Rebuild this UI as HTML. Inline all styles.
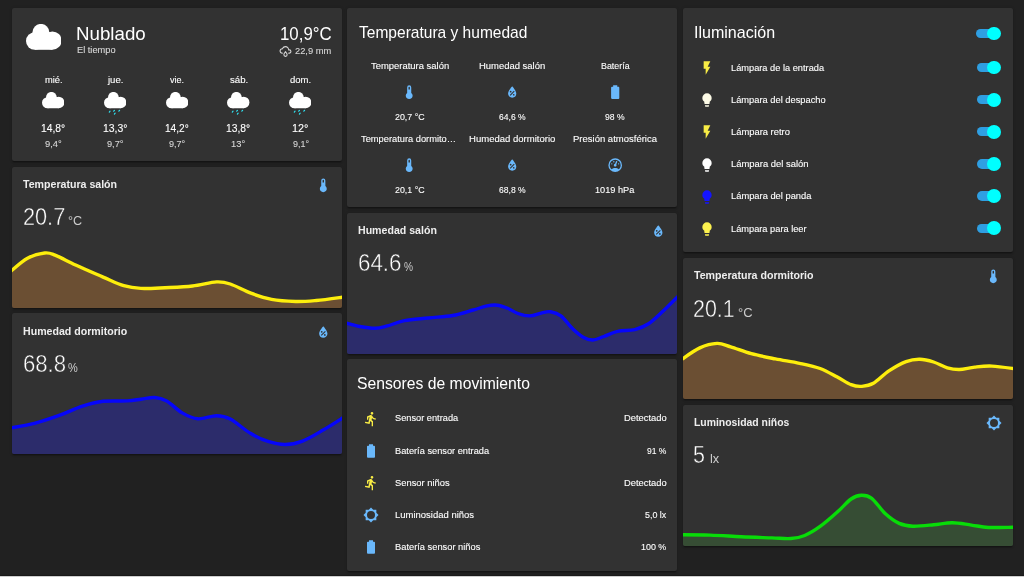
<!DOCTYPE html><html lang="es"><head><meta charset="utf-8"><title>Home Assistant</title><style>
html,body{margin:0;padding:0}
body{width:1024px;height:577px;overflow:hidden;background:#212121;font-family:"Liberation Sans",sans-serif;position:relative}
.card{position:absolute;background:#323232;border-radius:2px;box-shadow:0 1.33px 1.33px rgba(0,0,0,.14),0 .67px 3.3px rgba(0,0,0,.12),0 2px .67px -1.33px rgba(0,0,0,.2)}
.t{position:absolute;white-space:nowrap;line-height:1;transform-origin:0 0;display:block}
.ic,.gr{position:absolute;display:block;overflow:hidden}
.gr{border-radius:2px}
.trk{position:absolute;width:21.3px;height:9.3px;border-radius:5px;background:#2f9fe2}
.thb{position:absolute;width:13.8px;height:13.8px;border-radius:50%;background:#00ffff}
.foot{position:absolute;left:0;top:575.9px;width:1024px;height:2px;background:#cfcfcf;box-shadow:0 -.6px 1px rgba(0,0,0,.45)}
</style></head><body>
<div class="card" style="left:12.00px;top:8.00px;width:330.00px;height:152.67px"></div>
<div class="card" style="left:12.00px;top:166.80px;width:330.00px;height:140.73px"></div>
<div class="card" style="left:12.00px;top:313.47px;width:330.00px;height:140.73px"></div>
<div class="card" style="left:347.33px;top:8.00px;width:330.00px;height:198.67px"></div>
<div class="card" style="left:347.33px;top:212.80px;width:330.00px;height:140.73px"></div>
<div class="card" style="left:347.33px;top:359.30px;width:330.00px;height:211.40px"></div>
<div class="card" style="left:682.67px;top:8.00px;width:330.00px;height:244.00px"></div>
<div class="card" style="left:682.67px;top:258.13px;width:330.00px;height:140.73px"></div>
<div class="card" style="left:682.67px;top:404.80px;width:330.00px;height:140.73px"></div>
<svg class="ic" style="left:25.90px;top:23.50px;width:35.60px;height:38.00px" viewBox="0 0 35.6 38"><g fill="#fff"><circle cx="14.9" cy="8.4" r="8.5"/><circle cx="26.4" cy="16.6" r="9.2"/><circle cx="8.8" cy="17" r="8.8"/><rect x="8.8" y="8.4" width="17.6" height="17.4"/></g></svg>
<svg class="ic" style="left:279.10px;top:45.10px;width:13.00px;height:13.00px" viewBox="0 0 24 24"><path fill="#d8d8d8" fill-rule="evenodd" d="M6,14.03A1,1 0 0,1 7,15.03C7,15.58 6.55,16.03 6,16.03C3.24,16.03 1,13.79 1,11.03C1,8.27 3.24,6.03 6,6.03C7,3.68 9.3,2.03 12,2.03C15.43,2.03 18.24,4.69 18.5,8.06L19,8.03A4,4 0 0,1 23,12.03C23,14.23 21.21,16.03 19,16.03H18C17.45,16.03 17,15.58 17,15.03C17,14.47 17.45,14.03 18,14.03H19A2,2 0 0,0 21,12.03A2,2 0 0,0 19,10.03H17V9.03C17,6.27 14.76,4.03 12,4.03C9.5,4.03 7.45,5.84 7.06,8.21C6.73,8.09 6.37,8.03 6,8.03A3,3 0 0,0 3,11.03A3,3 0 0,0 6,14.03M12,14.15C12.18,14.39 12.37,14.66 12.56,14.94C13,15.56 14,17.03 14,18C14,19.11 13.1,20 12,20A2,2 0 0,1 10,18C10,17.03 11,15.56 11.44,14.94C11.63,14.66 11.82,14.4 12,14.15M12,11.03L11.5,11.59C11.5,11.59 10.65,12.55 9.79,13.81C8.93,15.06 8,16.56 8,18A4,4 0 0,0 12,22A4,4 0 0,0 16,18C16,16.56 15.07,15.06 14.21,13.81C13.35,12.55 12.5,11.59 12.5,11.59L12,11.03Z"/></svg>
<svg class="ic" style="left:42.05px;top:91.80px;width:22.43px;height:23.94px" viewBox="0 0 35.6 38"><g fill="#fff"><circle cx="14.9" cy="8.4" r="8.5"/><circle cx="26.4" cy="16.6" r="9.2"/><circle cx="8.8" cy="17" r="8.8"/><rect x="8.8" y="8.4" width="17.6" height="17.4"/></g></svg>
<svg class="ic" style="left:103.78px;top:91.80px;width:22.43px;height:23.94px" viewBox="0 0 35.6 38"><g fill="#fff"><circle cx="14.9" cy="8.4" r="8.5"/><circle cx="26.4" cy="16.6" r="9.2"/><circle cx="8.8" cy="17" r="8.8"/><rect x="8.8" y="8.4" width="17.6" height="17.4"/></g><g stroke="#2fe3f2" stroke-width="1.9" stroke-linecap="round"><line x1="9.6" y1="30.5" x2="8.4" y2="31.9"/><line x1="16.6" y1="29.1" x2="15.4" y2="30.5"/><line x1="24.700000000000003" y1="29.0" x2="23.5" y2="30.4"/><line x1="17.700000000000003" y1="33.599999999999994" x2="16.5" y2="35.0"/></g></svg>
<svg class="ic" style="left:165.51px;top:91.80px;width:22.43px;height:23.94px" viewBox="0 0 35.6 38"><g fill="#fff"><circle cx="14.9" cy="8.4" r="8.5"/><circle cx="26.4" cy="16.6" r="9.2"/><circle cx="8.8" cy="17" r="8.8"/><rect x="8.8" y="8.4" width="17.6" height="17.4"/></g></svg>
<svg class="ic" style="left:227.24px;top:91.80px;width:22.43px;height:23.94px" viewBox="0 0 35.6 38"><g fill="#fff"><circle cx="14.9" cy="8.4" r="8.5"/><circle cx="26.4" cy="16.6" r="9.2"/><circle cx="8.8" cy="17" r="8.8"/><rect x="8.8" y="8.4" width="17.6" height="17.4"/></g><g stroke="#2fe3f2" stroke-width="1.9" stroke-linecap="round"><line x1="9.6" y1="30.5" x2="8.4" y2="31.9"/><line x1="16.6" y1="29.1" x2="15.4" y2="30.5"/><line x1="24.700000000000003" y1="29.0" x2="23.5" y2="30.4"/><line x1="17.700000000000003" y1="33.599999999999994" x2="16.5" y2="35.0"/></g></svg>
<svg class="ic" style="left:288.97px;top:91.80px;width:22.43px;height:23.94px" viewBox="0 0 35.6 38"><g fill="#fff"><circle cx="14.9" cy="8.4" r="8.5"/><circle cx="26.4" cy="16.6" r="9.2"/><circle cx="8.8" cy="17" r="8.8"/><rect x="8.8" y="8.4" width="17.6" height="17.4"/></g><g stroke="#2fe3f2" stroke-width="1.9" stroke-linecap="round"><line x1="9.6" y1="30.5" x2="8.4" y2="31.9"/><line x1="16.6" y1="29.1" x2="15.4" y2="30.5"/><line x1="24.700000000000003" y1="29.0" x2="23.5" y2="30.4"/><line x1="17.700000000000003" y1="33.599999999999994" x2="16.5" y2="35.0"/></g></svg>
<svg class="gr" style="left:12.00px;top:166.80px;width:330.00px;height:140.73px" viewBox="0 0 330.00 140.73"><path d="M-2.0,104.9 C0.9,102.6 9.7,94.3 15.5,91.2 C21.3,88.0 28.1,86.5 32.7,86.0 C37.3,85.5 37.9,86.1 43.0,88.1 C48.1,90.1 55.6,94.3 63.6,98.0 C71.6,101.7 83.1,106.6 91.1,110.1 C99.1,113.5 105.5,116.8 111.8,118.7 C118.1,120.6 122.0,121.1 128.9,121.4 C135.8,121.7 144.4,121.1 153.0,120.7 C161.6,120.3 171.9,120.0 180.5,119.0 C189.1,118.0 198.3,115.2 204.6,114.9 C210.9,114.6 212.6,115.1 218.3,117.0 C224.0,118.9 232.0,123.6 238.9,126.2 C245.8,128.8 252.2,131.0 259.6,132.4 C267.1,133.8 276.2,134.3 283.6,134.5 C291.1,134.7 296.2,134.2 304.3,133.5 C312.4,132.8 327.4,130.6 332.0,130.0 L332,142.73000000000002 L-2,142.73000000000002 Z" fill="#6b4f33"/><path d="M-2.0,104.9 C0.9,102.6 9.7,94.3 15.5,91.2 C21.3,88.0 28.1,86.5 32.7,86.0 C37.3,85.5 37.9,86.1 43.0,88.1 C48.1,90.1 55.6,94.3 63.6,98.0 C71.6,101.7 83.1,106.6 91.1,110.1 C99.1,113.5 105.5,116.8 111.8,118.7 C118.1,120.6 122.0,121.1 128.9,121.4 C135.8,121.7 144.4,121.1 153.0,120.7 C161.6,120.3 171.9,120.0 180.5,119.0 C189.1,118.0 198.3,115.2 204.6,114.9 C210.9,114.6 212.6,115.1 218.3,117.0 C224.0,118.9 232.0,123.6 238.9,126.2 C245.8,128.8 252.2,131.0 259.6,132.4 C267.1,133.8 276.2,134.3 283.6,134.5 C291.1,134.7 296.2,134.2 304.3,133.5 C312.4,132.8 327.4,130.6 332.0,130.0" fill="none" stroke="#fdee0c" stroke-width="3.4" stroke-linejoin="round"/></svg>
<svg class="ic" style="left:314.80px;top:177.10px;width:16.60px;height:16.60px" viewBox="0 0 24 24"><path fill="#6ab8fb" fill-rule="evenodd" d="M15 13V5A3 3 0 0 0 9 5V13A5 5 0 1 0 15 13M12 4A1 1 0 0 1 13 5V8H11V5A1 1 0 0 1 12 4Z"/></svg>
<svg class="gr" style="left:12.00px;top:313.47px;width:330.00px;height:140.73px" viewBox="0 0 330.00 140.73"><path d="M-2.0,115.1 C2.1,114.3 14.3,112.4 22.4,110.3 C30.5,108.3 38.4,105.6 46.4,102.7 C54.4,99.9 63.0,95.5 70.5,93.1 C78.0,90.7 83.6,89.2 91.1,88.3 C98.5,87.5 108.9,88.3 115.2,87.9 C121.5,87.6 124.3,86.8 128.9,86.2 C133.5,85.7 138.4,84.2 142.7,84.5 C147.0,84.8 150.1,85.4 154.7,87.9 C159.3,90.5 165.0,96.9 170.2,99.9 C175.4,102.9 180.0,105.4 185.7,105.8 C191.4,106.3 199.2,102.7 204.6,102.7 C210.0,102.8 212.6,103.1 218.3,106.1 C224.0,109.1 232.6,116.9 238.9,120.6 C245.2,124.4 250.4,126.7 256.1,128.5 C261.8,130.3 267.6,131.6 273.3,131.5 C279.0,131.5 284.2,130.5 290.5,128.1 C296.8,125.7 304.2,121.1 311.1,117.1 C318.0,113.1 328.5,106.3 332.0,104.1 L332,142.73000000000002 L-2,142.73000000000002 Z" fill="#2c2c6b"/><path d="M-2.0,115.1 C2.1,114.3 14.3,112.4 22.4,110.3 C30.5,108.3 38.4,105.6 46.4,102.7 C54.4,99.9 63.0,95.5 70.5,93.1 C78.0,90.7 83.6,89.2 91.1,88.3 C98.5,87.5 108.9,88.3 115.2,87.9 C121.5,87.6 124.3,86.8 128.9,86.2 C133.5,85.7 138.4,84.2 142.7,84.5 C147.0,84.8 150.1,85.4 154.7,87.9 C159.3,90.5 165.0,96.9 170.2,99.9 C175.4,102.9 180.0,105.4 185.7,105.8 C191.4,106.3 199.2,102.7 204.6,102.7 C210.0,102.8 212.6,103.1 218.3,106.1 C224.0,109.1 232.6,116.9 238.9,120.6 C245.2,124.4 250.4,126.7 256.1,128.5 C261.8,130.3 267.6,131.6 273.3,131.5 C279.0,131.5 284.2,130.5 290.5,128.1 C296.8,125.7 304.2,121.1 311.1,117.1 C318.0,113.1 328.5,106.3 332.0,104.1" fill="none" stroke="#0606fa" stroke-width="3.4" stroke-linejoin="round"/></svg>
<svg class="ic" style="left:314.80px;top:323.77px;width:16.60px;height:16.60px" viewBox="0 0 24 24"><path fill="#6ab8fb" fill-rule="evenodd" d="M12,3.25C12,3.25 6,10 6,14C6,17.32 8.69,20 12,20A6,6 0 0,0 18,14C18,10 12,3.25 12,3.25M14.47,9.97L15.53,11.03L9.53,17.03L8.47,15.97M9.75,10A1.25,1.25 0 0,1 11,11.25A1.25,1.25 0 0,1 9.75,12.5A1.25,1.25 0 0,1 8.5,11.25A1.25,1.25 0 0,1 9.75,10M14.25,14.5A1.25,1.25 0 0,1 15.5,15.75A1.25,1.25 0 0,1 14.25,17A1.25,1.25 0 0,1 13,15.75A1.25,1.25 0 0,1 14.25,14.5Z"/></svg>
<svg class="ic" style="left:401.20px;top:83.90px;width:16.40px;height:16.40px" viewBox="0 0 24 24"><path fill="#6ab8fb" fill-rule="evenodd" d="M15 13V5A3 3 0 0 0 9 5V13A5 5 0 1 0 15 13M12 4A1 1 0 0 1 13 5V8H11V5A1 1 0 0 1 12 4Z"/></svg>
<svg class="ic" style="left:504.10px;top:83.90px;width:16.40px;height:16.40px" viewBox="0 0 24 24"><path fill="#6ab8fb" fill-rule="evenodd" d="M12,3.25C12,3.25 6,10 6,14C6,17.32 8.69,20 12,20A6,6 0 0,0 18,14C18,10 12,3.25 12,3.25M14.47,9.97L15.53,11.03L9.53,17.03L8.47,15.97M9.75,10A1.25,1.25 0 0,1 11,11.25A1.25,1.25 0 0,1 9.75,12.5A1.25,1.25 0 0,1 8.5,11.25A1.25,1.25 0 0,1 9.75,10M14.25,14.5A1.25,1.25 0 0,1 15.5,15.75A1.25,1.25 0 0,1 14.25,17A1.25,1.25 0 0,1 13,15.75A1.25,1.25 0 0,1 14.25,14.5Z"/></svg>
<svg class="ic" style="left:607.00px;top:83.90px;width:16.40px;height:16.40px" viewBox="0 0 24 24"><path fill="#6ab8fb" fill-rule="evenodd" d="M16.67,4H15V2H9V4H7.33A1.33,1.33 0 0,0 6,5.33V20.67C6,21.4 6.6,22 7.33,22H16.67A1.33,1.33 0 0,0 18,20.67V5.33C18,4.6 17.4,4 16.67,4Z"/></svg>
<svg class="ic" style="left:401.20px;top:156.60px;width:16.40px;height:16.40px" viewBox="0 0 24 24"><path fill="#6ab8fb" fill-rule="evenodd" d="M15 13V5A3 3 0 0 0 9 5V13A5 5 0 1 0 15 13M12 4A1 1 0 0 1 13 5V8H11V5A1 1 0 0 1 12 4Z"/></svg>
<svg class="ic" style="left:504.10px;top:156.60px;width:16.40px;height:16.40px" viewBox="0 0 24 24"><path fill="#6ab8fb" fill-rule="evenodd" d="M12,3.25C12,3.25 6,10 6,14C6,17.32 8.69,20 12,20A6,6 0 0,0 18,14C18,10 12,3.25 12,3.25M14.47,9.97L15.53,11.03L9.53,17.03L8.47,15.97M9.75,10A1.25,1.25 0 0,1 11,11.25A1.25,1.25 0 0,1 9.75,12.5A1.25,1.25 0 0,1 8.5,11.25A1.25,1.25 0 0,1 9.75,10M14.25,14.5A1.25,1.25 0 0,1 15.5,15.75A1.25,1.25 0 0,1 14.25,17A1.25,1.25 0 0,1 13,15.75A1.25,1.25 0 0,1 14.25,14.5Z"/></svg>
<svg class="ic" style="left:607.00px;top:156.60px;width:16.40px;height:16.40px" viewBox="0 0 24 24"><path fill="#6ab8fb" fill-rule="evenodd" d="M12,2A10,10 0 0,0 2,12A10,10 0 0,0 12,22A10,10 0 0,0 22,12A10,10 0 0,0 12,2M12,4A8,8 0 0,1 20,12C20,14.4 19,16.5 17.3,18C15.9,16.7 14,16 12,16C10,16 8.2,16.7 6.7,18C5,16.5 4,14.4 4,12A8,8 0 0,1 12,4M14,5.89C13.62,5.9 13.26,6.15 13.1,6.54L11.81,9.77L11.71,10C11,10.13 10.41,10.6 10.14,11.26C9.73,12.29 10.23,13.45 11.26,13.86C12.29,14.27 13.45,13.77 13.86,12.74C14.12,12.08 14,11.32 13.57,10.76L13.67,10.5L14.96,7.29L14.97,7.26C15.17,6.75 14.92,6.17 14.41,5.96C14.28,5.91 14.15,5.89 14,5.89M10,6A1,1 0 0,0 9,7A1,1 0 0,0 10,8A1,1 0 0,0 11,7A1,1 0 0,0 10,6M7,9A1,1 0 0,0 6,10A1,1 0 0,0 7,11A1,1 0 0,0 8,10A1,1 0 0,0 7,9M17,9A1,1 0 0,0 16,10A1,1 0 0,0 17,11A1,1 0 0,0 18,10A1,1 0 0,0 17,9Z"/></svg>
<svg class="gr" style="left:347.33px;top:212.80px;width:330.00px;height:140.73px" viewBox="0 0 330.00 140.73"><path d="M-2.0,109.8 C0.5,110.4 7.7,112.6 12.8,113.5 C17.8,114.4 23.6,115.4 28.2,115.3 C32.8,115.2 35.4,114.2 40.3,112.9 C45.2,111.6 50.6,109.0 57.5,107.7 C64.3,106.4 73.5,105.9 81.5,105.0 C89.5,104.1 98.1,103.8 105.6,102.5 C113.0,101.2 120.4,98.6 126.2,97.0 C131.9,95.4 136.0,93.7 140.0,92.9 C144.0,92.1 146.8,91.8 150.3,92.2 C153.7,92.6 157.1,93.9 160.6,95.3 C164.0,96.7 167.2,99.2 170.9,100.5 C174.6,101.8 178.9,103.0 182.9,102.9 C186.9,102.8 191.5,100.5 195.0,99.8 C198.4,99.1 200.4,98.3 203.6,98.8 C206.7,99.3 210.2,100.0 213.9,102.9 C217.6,105.8 222.2,112.5 225.9,116.0 C229.6,119.5 232.9,122.4 236.2,124.2 C239.5,126.0 242.3,127.1 245.8,127.0 C249.2,126.9 252.6,124.9 256.8,123.5 C260.9,122.1 265.4,119.5 270.6,118.4 C275.7,117.2 282.6,117.9 287.8,116.6 C292.9,115.3 296.9,113.8 301.5,110.8 C306.1,107.8 310.2,103.6 315.3,98.8 C320.4,94.1 329.2,85.1 332.0,82.3 L332,142.73000000000002 L-2,142.73000000000002 Z" fill="#2c2c6b"/><path d="M-2.0,109.8 C0.5,110.4 7.7,112.6 12.8,113.5 C17.8,114.4 23.6,115.4 28.2,115.3 C32.8,115.2 35.4,114.2 40.3,112.9 C45.2,111.6 50.6,109.0 57.5,107.7 C64.3,106.4 73.5,105.9 81.5,105.0 C89.5,104.1 98.1,103.8 105.6,102.5 C113.0,101.2 120.4,98.6 126.2,97.0 C131.9,95.4 136.0,93.7 140.0,92.9 C144.0,92.1 146.8,91.8 150.3,92.2 C153.7,92.6 157.1,93.9 160.6,95.3 C164.0,96.7 167.2,99.2 170.9,100.5 C174.6,101.8 178.9,103.0 182.9,102.9 C186.9,102.8 191.5,100.5 195.0,99.8 C198.4,99.1 200.4,98.3 203.6,98.8 C206.7,99.3 210.2,100.0 213.9,102.9 C217.6,105.8 222.2,112.5 225.9,116.0 C229.6,119.5 232.9,122.4 236.2,124.2 C239.5,126.0 242.3,127.1 245.8,127.0 C249.2,126.9 252.6,124.9 256.8,123.5 C260.9,122.1 265.4,119.5 270.6,118.4 C275.7,117.2 282.6,117.9 287.8,116.6 C292.9,115.3 296.9,113.8 301.5,110.8 C306.1,107.8 310.2,103.6 315.3,98.8 C320.4,94.1 329.2,85.1 332.0,82.3" fill="none" stroke="#0606fa" stroke-width="3.4" stroke-linejoin="round"/></svg>
<svg class="ic" style="left:650.13px;top:223.10px;width:16.60px;height:16.60px" viewBox="0 0 24 24"><path fill="#6ab8fb" fill-rule="evenodd" d="M12,3.25C12,3.25 6,10 6,14C6,17.32 8.69,20 12,20A6,6 0 0,0 18,14C18,10 12,3.25 12,3.25M14.47,9.97L15.53,11.03L9.53,17.03L8.47,15.97M9.75,10A1.25,1.25 0 0,1 11,11.25A1.25,1.25 0 0,1 9.75,12.5A1.25,1.25 0 0,1 8.5,11.25A1.25,1.25 0 0,1 9.75,10M14.25,14.5A1.25,1.25 0 0,1 15.5,15.75A1.25,1.25 0 0,1 14.25,17A1.25,1.25 0 0,1 13,15.75A1.25,1.25 0 0,1 14.25,14.5Z"/></svg>
<svg class="ic" style="left:363.10px;top:410.75px;width:16.00px;height:16.00px" viewBox="0 0 24 24"><path fill="#f8ec45" fill-rule="evenodd" d="M13.5,5.5C14.59,5.5 15.5,4.58 15.5,3.5C15.5,2.38 14.59,1.5 13.5,1.5C12.39,1.5 11.5,2.38 11.5,3.5C11.5,4.58 12.39,5.5 13.5,5.5M9.89,19.38L10.89,15L13,17V23H15V15.5L12.89,13.5L13.5,10.5C14.79,12 16.79,13 19,13V11C17.09,11 15.5,10 14.69,8.58L13.69,7C13.29,6.38 12.69,6 12,6C11.69,6 11.5,6.08 11.19,6.08L6,8.28V13H8V9.58L9.79,8.88L8.19,17L3.29,16L2.89,18L9.89,19.38Z"/></svg>
<svg class="ic" style="left:363.10px;top:442.85px;width:16.00px;height:16.00px" viewBox="0 0 24 24"><path fill="#6ab8fb" fill-rule="evenodd" d="M16.67,4H15V2H9V4H7.33A1.33,1.33 0 0,0 6,5.33V20.67C6,21.4 6.6,22 7.33,22H16.67A1.33,1.33 0 0,0 18,20.67V5.33C18,4.6 17.4,4 16.67,4Z"/></svg>
<svg class="ic" style="left:363.10px;top:474.95px;width:16.00px;height:16.00px" viewBox="0 0 24 24"><path fill="#f8ec45" fill-rule="evenodd" d="M13.5,5.5C14.59,5.5 15.5,4.58 15.5,3.5C15.5,2.38 14.59,1.5 13.5,1.5C12.39,1.5 11.5,2.38 11.5,3.5C11.5,4.58 12.39,5.5 13.5,5.5M9.89,19.38L10.89,15L13,17V23H15V15.5L12.89,13.5L13.5,10.5C14.79,12 16.79,13 19,13V11C17.09,11 15.5,10 14.69,8.58L13.69,7C13.29,6.38 12.69,6 12,6C11.69,6 11.5,6.08 11.19,6.08L6,8.28V13H8V9.58L9.79,8.88L8.19,17L3.29,16L2.89,18L9.89,19.38Z"/></svg>
<svg class="ic" style="left:363.10px;top:507.05px;width:16.00px;height:16.00px" viewBox="0 0 24 24"><path fill="#6ab8fb" fill-rule="evenodd" d="M12,18A6,6 0 0,1 6,12A6,6 0 0,1 12,6A6,6 0 0,1 18,12A6,6 0 0,1 12,18M20,8.69V4H15.31L12,0.69L8.69,4H4V8.69L0.69,12L4,15.31V20H8.69L12,23.31L15.31,20H20V15.31L23.31,12L20,8.69Z"/></svg>
<svg class="ic" style="left:363.10px;top:539.15px;width:16.00px;height:16.00px" viewBox="0 0 24 24"><path fill="#6ab8fb" fill-rule="evenodd" d="M16.67,4H15V2H9V4H7.33A1.33,1.33 0 0,0 6,5.33V20.67C6,21.4 6.6,22 7.33,22H16.67A1.33,1.33 0 0,0 18,20.67V5.33C18,4.6 17.4,4 16.67,4Z"/></svg>
<div class="trk" style="left:976.40px;top:28.90px"></div><div class="thb" style="left:987.00px;top:26.60px"></div>
<svg class="ic" style="left:698.50px;top:60.20px;width:16.00px;height:16.00px" viewBox="0 0 24 24"><path fill="#f8ec45" fill-rule="evenodd" d="M7,2V13H10V22L17,10H13L17,2H7Z"/></svg>
<div class="trk" style="left:976.80px;top:63.00px"></div><div class="thb" style="left:987.40px;top:60.70px"></div>
<svg class="ic" style="left:698.50px;top:92.30px;width:16.00px;height:16.00px" viewBox="0 0 24 24"><path fill="#fdfbe6" fill-rule="evenodd" d="M12,2A7,7 0 0,0 5,9C5,11.38 6.19,13.47 8,14.74V17A1,1 0 0,0 9,18H15A1,1 0 0,0 16,17V14.74C17.81,13.47 19,11.38 19,9A7,7 0 0,0 12,2M9,21A1,1 0 0,0 10,22H14A1,1 0 0,0 15,21V20H9V21Z"/></svg>
<div class="trk" style="left:976.80px;top:95.10px"></div><div class="thb" style="left:987.40px;top:92.80px"></div>
<svg class="ic" style="left:698.50px;top:124.40px;width:16.00px;height:16.00px" viewBox="0 0 24 24"><path fill="#f8ec45" fill-rule="evenodd" d="M7,2V13H10V22L17,10H13L17,2H7Z"/></svg>
<div class="trk" style="left:976.80px;top:127.20px"></div><div class="thb" style="left:987.40px;top:124.90px"></div>
<svg class="ic" style="left:698.50px;top:156.50px;width:16.00px;height:16.00px" viewBox="0 0 24 24"><path fill="#ffffff" fill-rule="evenodd" d="M12,2A7,7 0 0,0 5,9C5,11.38 6.19,13.47 8,14.74V17A1,1 0 0,0 9,18H15A1,1 0 0,0 16,17V14.74C17.81,13.47 19,11.38 19,9A7,7 0 0,0 12,2M9,21A1,1 0 0,0 10,22H14A1,1 0 0,0 15,21V20H9V21Z"/></svg>
<div class="trk" style="left:976.80px;top:159.30px"></div><div class="thb" style="left:987.40px;top:157.00px"></div>
<svg class="ic" style="left:698.50px;top:188.60px;width:16.00px;height:16.00px" viewBox="0 0 24 24"><path fill="#1414ff" fill-rule="evenodd" d="M12,2A7,7 0 0,0 5,9C5,11.38 6.19,13.47 8,14.74V17A1,1 0 0,0 9,18H15A1,1 0 0,0 16,17V14.74C17.81,13.47 19,11.38 19,9A7,7 0 0,0 12,2M9,21A1,1 0 0,0 10,22H14A1,1 0 0,0 15,21V20H9V21Z"/></svg>
<div class="trk" style="left:976.80px;top:191.40px"></div><div class="thb" style="left:987.40px;top:189.10px"></div>
<svg class="ic" style="left:698.50px;top:220.70px;width:16.00px;height:16.00px" viewBox="0 0 24 24"><path fill="#fdf24f" fill-rule="evenodd" d="M12,2A7,7 0 0,0 5,9C5,11.38 6.19,13.47 8,14.74V17A1,1 0 0,0 9,18H15A1,1 0 0,0 16,17V14.74C17.81,13.47 19,11.38 19,9A7,7 0 0,0 12,2M9,21A1,1 0 0,0 10,22H14A1,1 0 0,0 15,21V20H9V21Z"/></svg>
<div class="trk" style="left:976.80px;top:223.50px"></div><div class="thb" style="left:987.40px;top:221.20px"></div>
<svg class="gr" style="left:682.67px;top:258.13px;width:330.00px;height:140.73px" viewBox="0 0 330.00 140.73"><path d="M-2.0,101.9 C1.1,99.9 10.8,92.6 16.8,89.9 C22.8,87.1 28.9,85.6 34.0,85.4 C39.2,85.2 42.0,87.1 47.7,88.8 C53.5,90.5 61.0,93.7 68.4,95.7 C75.9,97.7 84.4,99.3 92.4,100.9 C100.4,102.5 109.1,103.7 116.5,105.3 C124.0,106.9 130.8,108.2 137.1,110.5 C143.4,112.8 149.2,116.4 154.3,119.1 C159.5,121.8 164.1,125.1 168.1,126.7 C172.1,128.2 174.7,128.6 178.4,128.4 C182.1,128.1 185.8,127.9 190.4,125.3 C195.0,122.7 200.5,116.5 205.9,112.9 C211.4,109.3 218.0,105.5 223.1,103.6 C228.3,101.6 232.2,101.1 236.8,101.2 C241.4,101.2 246.0,102.5 250.6,104.0 C255.2,105.4 260.0,108.5 264.3,109.8 C268.6,111.0 271.7,111.6 276.3,111.5 C280.9,111.4 286.4,109.6 291.8,109.1 C297.3,108.5 302.3,107.8 309.0,108.1 C315.7,108.4 328.2,110.3 332.0,110.8 L332,142.73000000000002 L-2,142.73000000000002 Z" fill="#6b4f33"/><path d="M-2.0,101.9 C1.1,99.9 10.8,92.6 16.8,89.9 C22.8,87.1 28.9,85.6 34.0,85.4 C39.2,85.2 42.0,87.1 47.7,88.8 C53.5,90.5 61.0,93.7 68.4,95.7 C75.9,97.7 84.4,99.3 92.4,100.9 C100.4,102.5 109.1,103.7 116.5,105.3 C124.0,106.9 130.8,108.2 137.1,110.5 C143.4,112.8 149.2,116.4 154.3,119.1 C159.5,121.8 164.1,125.1 168.1,126.7 C172.1,128.2 174.7,128.6 178.4,128.4 C182.1,128.1 185.8,127.9 190.4,125.3 C195.0,122.7 200.5,116.5 205.9,112.9 C211.4,109.3 218.0,105.5 223.1,103.6 C228.3,101.6 232.2,101.1 236.8,101.2 C241.4,101.2 246.0,102.5 250.6,104.0 C255.2,105.4 260.0,108.5 264.3,109.8 C268.6,111.0 271.7,111.6 276.3,111.5 C280.9,111.4 286.4,109.6 291.8,109.1 C297.3,108.5 302.3,107.8 309.0,108.1 C315.7,108.4 328.2,110.3 332.0,110.8" fill="none" stroke="#fdee0c" stroke-width="3.4" stroke-linejoin="round"/></svg>
<svg class="ic" style="left:985.47px;top:268.43px;width:16.60px;height:16.60px" viewBox="0 0 24 24"><path fill="#6ab8fb" fill-rule="evenodd" d="M15 13V5A3 3 0 0 0 9 5V13A5 5 0 1 0 15 13M12 4A1 1 0 0 1 13 5V8H11V5A1 1 0 0 1 12 4Z"/></svg>
<svg class="gr" style="left:682.67px;top:404.80px;width:330.00px;height:140.73px" viewBox="0 0 330.00 140.73"><path d="M-2.0,129.8 C2.9,129.8 17.1,129.8 27.1,130.1 C37.2,130.4 47.8,131.3 58.1,131.8 C68.4,132.3 80.7,132.6 89.0,132.9 C97.3,133.2 102.5,133.9 107.9,133.5 C113.4,133.1 116.9,132.5 121.7,130.5 C126.6,128.5 131.7,125.4 137.1,121.5 C142.6,117.6 149.2,111.7 154.3,107.1 C159.5,102.5 164.1,96.8 168.1,94.0 C172.1,91.2 175.0,90.3 178.4,90.2 C181.9,90.1 184.7,90.2 188.7,93.3 C192.7,96.4 197.8,104.6 202.4,108.8 C207.0,113.0 211.6,116.3 216.2,118.4 C220.8,120.5 224.2,121.0 229.9,121.2 C235.7,121.4 244.0,120.4 250.6,119.8 C257.2,119.2 263.2,117.6 269.5,117.7 C275.8,117.7 282.4,119.3 288.4,120.1 C294.4,120.9 298.4,122.1 305.6,122.5 C312.9,122.8 327.6,122.2 332.0,122.2 L332,142.73000000000002 L-2,142.73000000000002 Z" fill="#364d34"/><path d="M-2.0,129.8 C2.9,129.8 17.1,129.8 27.1,130.1 C37.2,130.4 47.8,131.3 58.1,131.8 C68.4,132.3 80.7,132.6 89.0,132.9 C97.3,133.2 102.5,133.9 107.9,133.5 C113.4,133.1 116.9,132.5 121.7,130.5 C126.6,128.5 131.7,125.4 137.1,121.5 C142.6,117.6 149.2,111.7 154.3,107.1 C159.5,102.5 164.1,96.8 168.1,94.0 C172.1,91.2 175.0,90.3 178.4,90.2 C181.9,90.1 184.7,90.2 188.7,93.3 C192.7,96.4 197.8,104.6 202.4,108.8 C207.0,113.0 211.6,116.3 216.2,118.4 C220.8,120.5 224.2,121.0 229.9,121.2 C235.7,121.4 244.0,120.4 250.6,119.8 C257.2,119.2 263.2,117.6 269.5,117.7 C275.8,117.7 282.4,119.3 288.4,120.1 C294.4,120.9 298.4,122.1 305.6,122.5 C312.9,122.8 327.6,122.2 332.0,122.2" fill="none" stroke="#08dc08" stroke-width="3.4" stroke-linejoin="round"/></svg>
<svg class="ic" style="left:985.77px;top:415.40px;width:16.00px;height:16.00px" viewBox="0 0 24 24"><path fill="#6ab8fb" fill-rule="evenodd" d="M12,18A6,6 0 0,1 6,12A6,6 0 0,1 12,6A6,6 0 0,1 18,12A6,6 0 0,1 12,18M20,8.69V4H15.31L12,0.69L8.69,4H4V8.69L0.69,12L4,15.31V20H8.69L12,23.31L15.31,20H20V15.31L23.31,12L20,8.69Z"/></svg>
<span class="t" id="t0" style="font-size:18.67px;font-weight:400;color:#ffffff;top:25.00px;left:76.43px;transform:scaleX(1.0028);">Nublado</span>
<span class="t" id="t1" style="font-size:9.33px;font-weight:400;color:#d8d8d8;top:46.00px;-webkit-text-stroke:0.1px #d8d8d8;left:76.83px;transform:scaleX(0.9921);">El tiempo</span>
<span class="t" id="t2" style="font-size:18.67px;font-weight:400;color:#ffffff;top:25.00px;left:279.66px;transform:scaleX(0.9032);">10,9°C</span>
<span class="t" id="t3" style="font-size:9.33px;font-weight:400;color:#d8d8d8;top:47.00px;-webkit-text-stroke:0.1px #d8d8d8;left:294.93px;transform:scaleX(0.9977);">22,9 mm</span>
<span class="t" id="t4" style="font-size:9.33px;font-weight:400;color:#ffffff;top:76.00px;-webkit-text-stroke:0.1px #ffffff;left:44.83px;transform:scaleX(0.9972);">mié.</span>
<span class="t" id="t5" style="font-size:10.67px;font-weight:400;color:#ffffff;top:123.00px;-webkit-text-stroke:0.1px #ffffff;left:41.24px;transform:scaleX(0.9680);">14,8°</span>
<span class="t" id="t6" style="font-size:9.33px;font-weight:400;color:#d8d8d8;top:140.00px;-webkit-text-stroke:0.1px #d8d8d8;left:45.44px;transform:scaleX(1.0014);">9,4°</span>
<span class="t" id="t7" style="font-size:9.33px;font-weight:400;color:#ffffff;top:76.00px;-webkit-text-stroke:0.1px #ffffff;left:107.77px;transform:scaleX(1.0250);">jue.</span>
<span class="t" id="t8" style="font-size:10.67px;font-weight:400;color:#ffffff;top:123.00px;-webkit-text-stroke:0.1px #ffffff;left:102.98px;transform:scaleX(0.9788);">13,3°</span>
<span class="t" id="t9" style="font-size:9.33px;font-weight:400;color:#d8d8d8;top:140.00px;-webkit-text-stroke:0.1px #d8d8d8;left:107.45px;transform:scaleX(0.9848);">9,7°</span>
<span class="t" id="t10" style="font-size:9.33px;font-weight:400;color:#ffffff;top:76.00px;-webkit-text-stroke:0.1px #ffffff;left:170.22px;transform:scaleX(0.9680);">vie.</span>
<span class="t" id="t11" style="font-size:10.67px;font-weight:400;color:#ffffff;top:123.00px;-webkit-text-stroke:0.1px #ffffff;left:164.76px;transform:scaleX(0.9464);">14,2°</span>
<span class="t" id="t12" style="font-size:9.33px;font-weight:400;color:#d8d8d8;top:140.00px;-webkit-text-stroke:0.1px #d8d8d8;left:169.21px;transform:scaleX(0.9683);">9,7°</span>
<span class="t" id="t13" style="font-size:9.33px;font-weight:400;color:#ffffff;top:76.00px;-webkit-text-stroke:0.1px #ffffff;left:229.92px;transform:scaleX(1.0362);">sáb.</span>
<span class="t" id="t14" style="font-size:10.67px;font-weight:400;color:#ffffff;top:123.00px;-webkit-text-stroke:0.1px #ffffff;left:226.24px;transform:scaleX(0.9680);">13,8°</span>
<span class="t" id="t15" style="font-size:9.33px;font-weight:400;color:#d8d8d8;top:140.00px;-webkit-text-stroke:0.1px #d8d8d8;left:231.18px;transform:scaleX(1.0035);">13°</span>
<span class="t" id="t16" style="font-size:9.33px;font-weight:400;color:#ffffff;top:76.00px;-webkit-text-stroke:0.1px #ffffff;left:289.51px;transform:scaleX(1.0200);">dom.</span>
<span class="t" id="t17" style="font-size:10.67px;font-weight:400;color:#ffffff;top:123.00px;-webkit-text-stroke:0.1px #ffffff;left:292.18px;transform:scaleX(1.0183);">12°</span>
<span class="t" id="t18" style="font-size:9.33px;font-weight:400;color:#d8d8d8;top:140.00px;-webkit-text-stroke:0.1px #d8d8d8;left:293.16px;transform:scaleX(0.9584);">9,1°</span>
<span class="t" id="t19" style="font-size:10.9px;font-weight:700;color:#eeeeee;top:179.00px;left:23.10px;transform:scaleX(0.9735);">Temperatura salón</span>
<span class="t" id="t20" style="font-size:23.6px;font-weight:300;color:#ffffff;top:206.00px;-webkit-text-stroke:0.45px #323232;left:22.64px;transform:scaleX(0.9191);">20.7</span>
<span class="t" id="t21" style="font-size:13.4px;font-weight:400;color:#cdcdcd;top:214.00px;left:67.99px;transform:scaleX(0.9418);">°C</span>
<span class="t" id="t22" style="font-size:10.9px;font-weight:700;color:#eeeeee;top:326.00px;left:23.15px;transform:scaleX(0.9733);">Humedad dormitorio</span>
<span class="t" id="t23" style="font-size:23.6px;font-weight:300;color:#ffffff;top:353.00px;-webkit-text-stroke:0.45px #323232;left:22.56px;transform:scaleX(0.9380);">68.8</span>
<span class="t" id="t24" style="font-size:13.4px;font-weight:400;color:#cdcdcd;top:361.00px;left:67.71px;transform:scaleX(0.8217);">%</span>
<span class="t" id="t25" style="font-size:16.2px;font-weight:400;color:#ffffff;top:24.00px;left:359.35px;transform:scaleX(0.9597);">Temperatura y humedad</span>
<span class="t" id="t26" style="font-size:9.33px;font-weight:400;color:#ffffff;top:62.00px;-webkit-text-stroke:0.1px #ffffff;left:370.55px;transform:scaleX(1.0114);">Temperatura salón</span>
<span class="t" id="t27" style="font-size:9.33px;font-weight:400;color:#ffffff;top:113.00px;-webkit-text-stroke:0.1px #ffffff;left:394.95px;transform:scaleX(0.9492);">20,7 °C</span>
<span class="t" id="t28" style="font-size:9.33px;font-weight:400;color:#ffffff;top:62.00px;-webkit-text-stroke:0.1px #ffffff;left:479.34px;transform:scaleX(1.0133);">Humedad salón</span>
<span class="t" id="t29" style="font-size:9.33px;font-weight:400;color:#ffffff;top:113.00px;-webkit-text-stroke:0.1px #ffffff;left:498.99px;transform:scaleX(0.9163);">64,6 %</span>
<span class="t" id="t30" style="font-size:9.33px;font-weight:400;color:#ffffff;top:62.00px;-webkit-text-stroke:0.1px #ffffff;left:600.73px;transform:scaleX(0.9502);">Batería</span>
<span class="t" id="t31" style="font-size:9.33px;font-weight:400;color:#ffffff;top:113.00px;-webkit-text-stroke:0.1px #ffffff;left:605.48px;transform:scaleX(0.9201);">98 %</span>
<span class="t" id="t32" style="font-size:9.33px;font-weight:400;color:#ffffff;top:135.00px;-webkit-text-stroke:0.1px #ffffff;left:360.80px;transform:scaleX(0.9962);">Temperatura dormito…</span>
<span class="t" id="t33" style="font-size:9.33px;font-weight:400;color:#ffffff;top:186.00px;-webkit-text-stroke:0.1px #ffffff;left:394.95px;transform:scaleX(0.9492);">20,1 °C</span>
<span class="t" id="t34" style="font-size:9.33px;font-weight:400;color:#ffffff;top:135.00px;-webkit-text-stroke:0.1px #ffffff;left:469.08px;transform:scaleX(1.0221);">Humedad dormitorio</span>
<span class="t" id="t35" style="font-size:9.33px;font-weight:400;color:#ffffff;top:186.00px;-webkit-text-stroke:0.1px #ffffff;left:498.99px;transform:scaleX(0.9163);">68,8 %</span>
<span class="t" id="t36" style="font-size:9.33px;font-weight:400;color:#ffffff;top:135.00px;-webkit-text-stroke:0.1px #ffffff;left:573.16px;transform:scaleX(1.0189);">Presión atmosférica</span>
<span class="t" id="t37" style="font-size:9.33px;font-weight:400;color:#ffffff;top:186.00px;-webkit-text-stroke:0.1px #ffffff;left:595.21px;transform:scaleX(0.9855);">1019 hPa</span>
<span class="t" id="t38" style="font-size:10.9px;font-weight:700;color:#eeeeee;top:225.00px;left:358.48px;transform:scaleX(0.9724);">Humedad salón</span>
<span class="t" id="t39" style="font-size:23.6px;font-weight:300;color:#ffffff;top:252.00px;-webkit-text-stroke:0.45px #323232;left:357.89px;transform:scaleX(0.9444);">64.6</span>
<span class="t" id="t40" style="font-size:13.4px;font-weight:400;color:#cdcdcd;top:260.00px;left:403.54px;transform:scaleX(0.7578);">%</span>
<span class="t" id="t41" style="font-size:16.2px;font-weight:400;color:#ffffff;top:375.00px;left:357.41px;transform:scaleX(0.9706);">Sensores de movimiento</span>
<span class="t" id="t42" style="font-size:9.33px;font-weight:400;color:#ffffff;top:414.00px;-webkit-text-stroke:0.1px #ffffff;left:395.21px;transform:scaleX(0.9906);">Sensor entrada</span>
<span class="t" id="t43" style="font-size:9.33px;font-weight:400;color:#ffffff;top:414.00px;-webkit-text-stroke:0.1px #ffffff;left:623.67px;transform:scaleX(1.0038);">Detectado</span>
<span class="t" id="t44" style="font-size:9.33px;font-weight:400;color:#ffffff;top:447.00px;-webkit-text-stroke:0.1px #ffffff;left:395.43px;transform:scaleX(0.9915);">Batería sensor entrada</span>
<span class="t" id="t45" style="font-size:9.33px;font-weight:400;color:#ffffff;top:447.00px;-webkit-text-stroke:0.1px #ffffff;left:646.73px;transform:scaleX(0.9151);">91 %</span>
<span class="t" id="t46" style="font-size:9.33px;font-weight:400;color:#ffffff;top:479.00px;-webkit-text-stroke:0.1px #ffffff;left:395.20px;transform:scaleX(1.0044);">Sensor niños</span>
<span class="t" id="t47" style="font-size:9.33px;font-weight:400;color:#ffffff;top:479.00px;-webkit-text-stroke:0.1px #ffffff;left:623.67px;transform:scaleX(1.0038);">Detectado</span>
<span class="t" id="t48" style="font-size:9.33px;font-weight:400;color:#ffffff;top:511.00px;-webkit-text-stroke:0.1px #ffffff;left:395.41px;transform:scaleX(1.0169);">Luminosidad niños</span>
<span class="t" id="t49" style="font-size:9.33px;font-weight:400;color:#ffffff;top:511.00px;-webkit-text-stroke:0.1px #ffffff;left:644.87px;transform:scaleX(0.9542);">5,0 lx</span>
<span class="t" id="t50" style="font-size:9.33px;font-weight:400;color:#ffffff;top:543.00px;-webkit-text-stroke:0.1px #ffffff;left:395.43px;transform:scaleX(0.9975);">Batería sensor niños</span>
<span class="t" id="t51" style="font-size:9.33px;font-weight:400;color:#ffffff;top:543.00px;-webkit-text-stroke:0.1px #ffffff;left:641.24px;transform:scaleX(0.9557);">100 %</span>
<span class="t" id="t52" style="font-size:16.2px;font-weight:400;color:#ffffff;top:24.00px;left:693.57px;transform:scaleX(0.9909);">Iluminación</span>
<span class="t" id="t53" style="font-size:9.33px;font-weight:400;color:#ffffff;top:64.00px;-webkit-text-stroke:0.1px #ffffff;left:730.93px;transform:scaleX(0.9914);">Lámpara de la entrada</span>
<span class="t" id="t54" style="font-size:9.33px;font-weight:400;color:#ffffff;top:96.00px;-webkit-text-stroke:0.1px #ffffff;left:730.93px;transform:scaleX(0.9979);">Lámpara del despacho</span>
<span class="t" id="t55" style="font-size:9.33px;font-weight:400;color:#ffffff;top:128.00px;-webkit-text-stroke:0.1px #ffffff;left:730.92px;transform:scaleX(1.0052);">Lámpara retro</span>
<span class="t" id="t56" style="font-size:9.33px;font-weight:400;color:#ffffff;top:160.00px;-webkit-text-stroke:0.1px #ffffff;left:730.91px;transform:scaleX(1.0110);">Lámpara del salón</span>
<span class="t" id="t57" style="font-size:9.33px;font-weight:400;color:#ffffff;top:192.00px;-webkit-text-stroke:0.1px #ffffff;left:730.93px;transform:scaleX(1.0003);">Lámpara del panda</span>
<span class="t" id="t58" style="font-size:9.33px;font-weight:400;color:#ffffff;top:225.00px;-webkit-text-stroke:0.1px #ffffff;left:730.93px;transform:scaleX(0.9918);">Lámpara para leer</span>
<span class="t" id="t59" style="font-size:10.9px;font-weight:700;color:#eeeeee;top:270.00px;left:693.77px;transform:scaleX(0.9748);">Temperatura dormitorio</span>
<span class="t" id="t60" style="font-size:23.6px;font-weight:300;color:#ffffff;top:298.00px;-webkit-text-stroke:0.45px #323232;left:693.32px;transform:scaleX(0.9066);">20.1</span>
<span class="t" id="t61" style="font-size:13.4px;font-weight:400;color:#cdcdcd;top:306.00px;left:738.21px;transform:scaleX(0.9655);">°C</span>
<span class="t" id="t62" style="font-size:10.9px;font-weight:700;color:#eeeeee;top:417.00px;left:693.83px;transform:scaleX(0.9549);">Luminosidad niños</span>
<span class="t" id="t63" style="font-size:23.6px;font-weight:300;color:#ffffff;top:444.00px;-webkit-text-stroke:0.45px #323232;left:693.37px;transform:scaleX(0.9108);">5</span>
<span class="t" id="t64" style="font-size:13.4px;font-weight:400;color:#cdcdcd;top:452.00px;left:709.65px;transform:scaleX(0.9547);">lx</span>
<div class="foot"></div></body></html>
